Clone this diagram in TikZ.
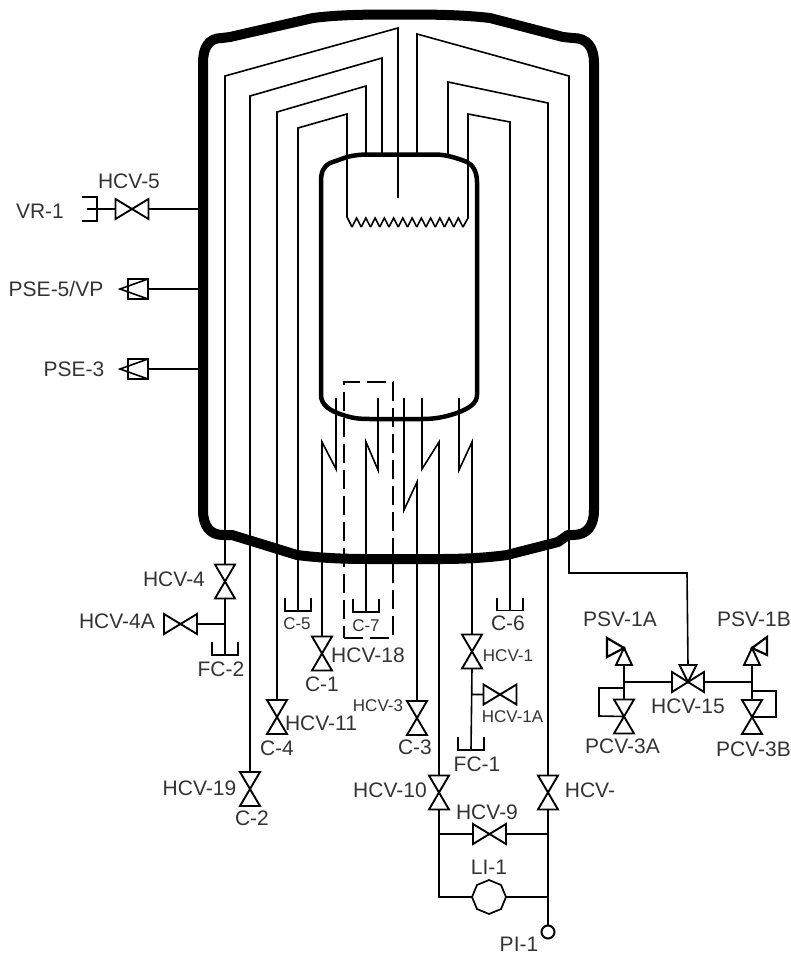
\documentclass[tikz,border=0pt]{standalone}
\usepackage{fontspec}
\setmainfont{Liberation Sans}
\usetikzlibrary{shapes.geometric}
\definecolor{labelgray}{HTML}{333333}
\tikzset{%
  pipe/.style={draw,line width=1.6pt,line join=miter},
  valveline/.style={draw,line width=1.9pt,line join=miter},
  valvebox/.style={inner sep=0pt,outer sep=0pt,rectangle},
  lab/.style={inner sep=0pt,text=labelgray,font=\fontsize{21}{24}\selectfont},
  smalllab/.style={inner sep=0pt,text=labelgray,font=\fontsize{17}{20}\selectfont},
}
% Symbols: name, position
\newcommand{\valveH}[2]{%
  \node[valvebox,minimum width=33pt,minimum height=20pt](#1) at (#2){};
  \draw[valveline] (#1.north west) -- (#1.south east) -- (#1.north east) -- (#1.south west) -- cycle;
}
\newcommand{\valveV}[2]{%
  \node[valvebox,minimum width=20pt,minimum height=34pt](#1) at (#2){};
  \draw[valveline] (#1.north west) -- (#1.north east) -- (#1.south west) -- (#1.south east) -- cycle;
}
\newcommand{\catchcup}[2]{%
  \node[valvebox,minimum width=26pt,minimum height=13pt](#1) at (#2){};
  \draw[pipe] (#1.north west) -- (#1.south west) -- (#1.south east) -- (#1.north east);
}
\newcommand{\pressbox}[2]{%
  \node[valvebox,draw,line width=2.2pt,minimum width=20pt,minimum height=20pt](#1) at (#2){};
  \draw[pipe] (#1.north east) -- ([xshift=-28pt]#1.east) -- (#1.south east);
}
\begin{document}
\begin{tikzpicture}[x=1pt,y=-1pt]
  \useasboundingbox (0,0) rectangle (791,954);
  %Vessels
  \draw[line width=10pt,line join=round]
    (203,63) .. controls (203,47) and (209,38) .. (222,38) -- (230,37) -- (313,18)
    .. controls (340,14.5) and (370,14.5) .. (398,14.5)
    .. controls (430,14.5) and (460,14.5) .. (490,18) -- (563,37) -- (573,38)
    .. controls (587,38) and (594,47) .. (594,63) -- (594,510)
    .. controls (594,526) and (587,535) .. (573,535) -- (568,535) -- (558,542) -- (507,555)
    .. controls (485,558) and (462,559) .. (440,559) -- (367,559)
    .. controls (345,559) and (320,558) .. (297,555) -- (232,535) -- (223,535)
    .. controls (210,535) and (203,526) .. (203,510) -- cycle;
  \draw[line width=4.5pt,line join=round]
    (321,182) .. controls (321,172) and (323,167) .. (330,163) -- (347,157)
    .. controls (355,155) and (362,154.5) .. (367,154.5) -- (437,154.5)
    .. controls (447,155) and (457,158) .. (467,162)
    .. controls (473,165) and (477,172) .. (477,182) -- (477,395)
    .. controls (477,403) and (470,408) .. (457,413)
    .. controls (445,417) and (435,419) .. (423,419) -- (370,419)
    .. controls (358,419) and (352,418) .. (343,415)
    .. controls (330,411) and (321,405) .. (321,395) -- cycle;
  %Symbols
  \valveH{hcv5}{132,209}
  \valveV{hcv4}{225,581.5}
  \valveH{hcv4a}{180.5,624}
  \valveV{hcv19}{250,789}
  \valveV{hcv11}{277,717}
  \valveV{hcv18}{322,653.5}
  \valveV{hcv3}{417,718}
  \valveV{hcv10}{439,792.5}
  \valveV{hcvx}{548,792.5}
  \valveV{hcv1}{472,651.5}
  \valveH{hcv1a}{500,694.5}
  \valveH{hcv9}{489.5,834}
  \valveV{pcv3a}{624,716.5}
  \valveV{pcv3b}{752,717}
  \catchcup{fc2}{225,648.5}
  \catchcup{c5}{298,604.5}
  \catchcup{c7}{366,605.5}
  \catchcup{c6}{510,604}
  \catchcup{fc1}{471,743.5}
  \pressbox{pse5}{138,289}
  \pressbox{pse3}{138,369}
  \node[valvebox,minimum width=15pt,minimum height=24pt](vr1) at (89.5,209){};
  \draw[pipe] (vr1.north west) -- (vr1.north east) -- (vr1.south east) -- (vr1.south west);
  \node[valvebox,draw,line width=1.7pt,regular polygon,regular polygon sides=8,shape border rotate=22.5,minimum size=34pt](li1) at (489,897){};
  \node[valvebox,draw,line width=2pt,circle,minimum size=13pt](pi1) at (548,932){};
  \node[valvebox,draw,line width=1.6pt,dash pattern=on 19pt off 7pt,minimum width=49pt,minimum height=256pt](c7shield) at (368.5,510){};
  %Three way valve
  \node[valvebox,minimum width=32pt,minimum height=34pt](hcv15) at (688,682){};
  \draw[valveline] (hcv15.center) -- ([xshift=-8.5pt]hcv15.north) -- ([xshift=8.5pt]hcv15.north) -- cycle;
  \draw[valveline] (hcv15.center) -- ([yshift=10pt]hcv15.west) -- ([yshift=-10pt]hcv15.west) -- cycle;
  \draw[valveline] (hcv15.center) -- ([yshift=10pt]hcv15.east) -- ([yshift=-10pt]hcv15.east) -- cycle;
  %Relief valves
  \coordinate (psv1a) at (624,665);
  \coordinate (psv1b) at (752,665);
  \draw[valveline] ([xshift=-8pt]psv1a) -- ++(8,-17) coordinate (psv1atip) -- ([xshift=8pt]psv1a) -- cycle;
  \draw[valveline] ([xshift=-8pt]psv1b) -- ++(8,-17) coordinate (psv1btip) -- ([xshift=8pt]psv1b) -- cycle;
  \draw[line width=2.2pt] (psv1atip) -- ++(-17,-10) -- ++(0,19) -- cycle;
  \draw[line width=2.2pt] (psv1btip) -- ++(15,-11) -- ++(0,18) -- cycle;
  %Free ends and junctions
  \coordinate (tipa) at (398,198);
  \coordinate (tipb) at (382,154);
  \coordinate (tipc) at (366,154);
  \coordinate (tipe) at (417,154);
  \coordinate (tipf) at (448,154);
  \coordinate (tubea) at (336,398);
  \coordinate (tubeb) at (378,398);
  \coordinate (tubec) at (404,398);
  \coordinate (tubed) at (422,398);
  \coordinate (tubee) at (459,398);
  \coordinate (wallv) at (199,209);
  \coordinate (wallp) at (199,289);
  \coordinate (walls) at (199,369);
  \coordinate (vrend) at (87,209);
  \coordinate (j4a) at (225,624);
  \coordinate (j1a) at (472,694.5);
  \coordinate (jl9) at (439,834);
  \coordinate (jr9) at (548,834);
  \coordinate (jl1) at (439,897);
  \coordinate (jr1) at (548,897);
  \coordinate (ja) at (624,682);
  \coordinate (jb) at (752,682);
  \coordinate (spiralin) at (347,217);
  \coordinate (spiralout) at (468,218);
  %Lines
  \draw[pipe]
    % Coils
    (hcv4.north) -- (225,76) -- (398,28) -- (tipa)
    (hcv19.north) -- (250,96) -- (382,58) -- (tipb)
    (hcv11.north) -- (277,112) -- (366,86) -- (tipc)
    (c5.south) -- (298,128) -- (347,114) -- (spiralin) -- (352,227)
    (c6.south) -- (510,122) -- (468,114) -- (spiralout) -- (463,227)
    (hcv15.north) -- (687,573) -- (569,573) -- (569,76) -- (417,34) -- (tipe)
    (hcvx.north) -- (548,103) -- (448,82) -- (tipf)
    % Lower tubes
    (hcv18.north) -- (322,442) -- (336,469) -- (tubea)
    (c7.south) -- (366,442) -- (378,470) -- (tubeb)
    (hcv3.north) -- (417,482) -- (404,510) -- (tubec)
    (hcv10.north) -- (439,442) -- (422,469) -- (tubed)
    (hcv1.north) -- (472,442) -- (459,470) -- (tubee)
    % Outlets
    (hcv4.south) -- (fc2.south)
    (j4a) -- (hcv4a.east)
    (hcv1.south) -- (fc1.south)
    (j1a) -- (hcv1a.west)
    (hcv10.south) -- (jl1) -- (li1.west)
    (hcvx.south) -- (jr1) -- (pi1.north)
    (li1.east) -- (jr1)
    (jl9) -- (hcv9.west)
    (hcv9.east) -- (jr9)
    % Side nozzles
    (vrend) -- (hcv5.west)
    (hcv5.east) -- (wallv)
    (pse5.east) -- (wallp)
    (pse3.east) -- (walls)
    % Relief manifold
    (ja) -- (hcv15.west)
    (hcv15.east) -- (jb)
    (psv1a) -- (pcv3a.north)
    (psv1b) -- (pcv3b.north)
    (624,688) -- (599,688) -- (599,716) -- (pcv3a.center)
    (752,691) -- (776,691) -- (776,717) -- (pcv3b.center)
    ;
  \foreach \i in {0,...,11}
    \draw[line width=1.6pt] ({352+9.25*\i},227) -- ({356.6+9.25*\i},218) -- ({361.25+9.25*\i},227);
  %Labels
  \node[lab](lhcv5) at (129,181){HCV-5};
  \node[lab](lvr1) at (40,211){VR-1};
  \node[lab](lpse5) at (56,289){PSE-5/VP};
  \node[lab](lpse3) at (74,369){PSE-3};
  \node[lab](lhcv4) at (174,579){HCV-4};
  \node[lab](lhcv4a) at (117,621){HCV-4A};
  \node[lab](lfc2) at (221,669){FC-2};
  \node[smalllab](lc5) at (297,624){C-5};
  \node[smalllab](lc7) at (366,626){C-7};
  \node[lab](lc6) at (508,623){C-6};
  \node[lab](lhcv18) at (368,655){HCV-18};
  \node[lab](lc1) at (322,684){C-1};
  \node[lab](lhcv11) at (321,723){HCV-11};
  \node[lab](lc4) at (277,748){C-4};
  \node[lab](lhcv19) at (199.5,788){HCV-19};
  \node[lab](lc2) at (252,818){C-2};
  \node[smalllab](lhcv3) at (378,706){HCV-3};
  \node[smalllab](lhcv1) at (508,656){HCV-1};
  \node[smalllab](lhcv1a) at (512.5,717){HCV-1A};
  \node[lab](lc3) at (415,747){C-3};
  \node[lab](lfc1) at (477,764){FC-1};
  \node[lab](lhcv10) at (390,790){HCV-10};
  \node[lab](lhcvx) at (590,790){HCV-};
  \node[lab](lhcv9) at (487,812){HCV-9};
  \node[lab](lli1) at (489,867){LI-1};
  \node[lab](lpi1) at (519,944){PI-1};
  \node[lab](lpsv1a) at (620,619){PSV-1A};
  \node[lab](lpsv1b) at (754,619){PSV-1B};
  \node[lab](lhcv15) at (688,706){HCV-15};
  \node[lab](lpcv3a) at (622.5,746){PCV-3A};
  \node[lab](lpcv3b) at (753.5,749){PCV-3B};
\end{tikzpicture}
\end{document}
